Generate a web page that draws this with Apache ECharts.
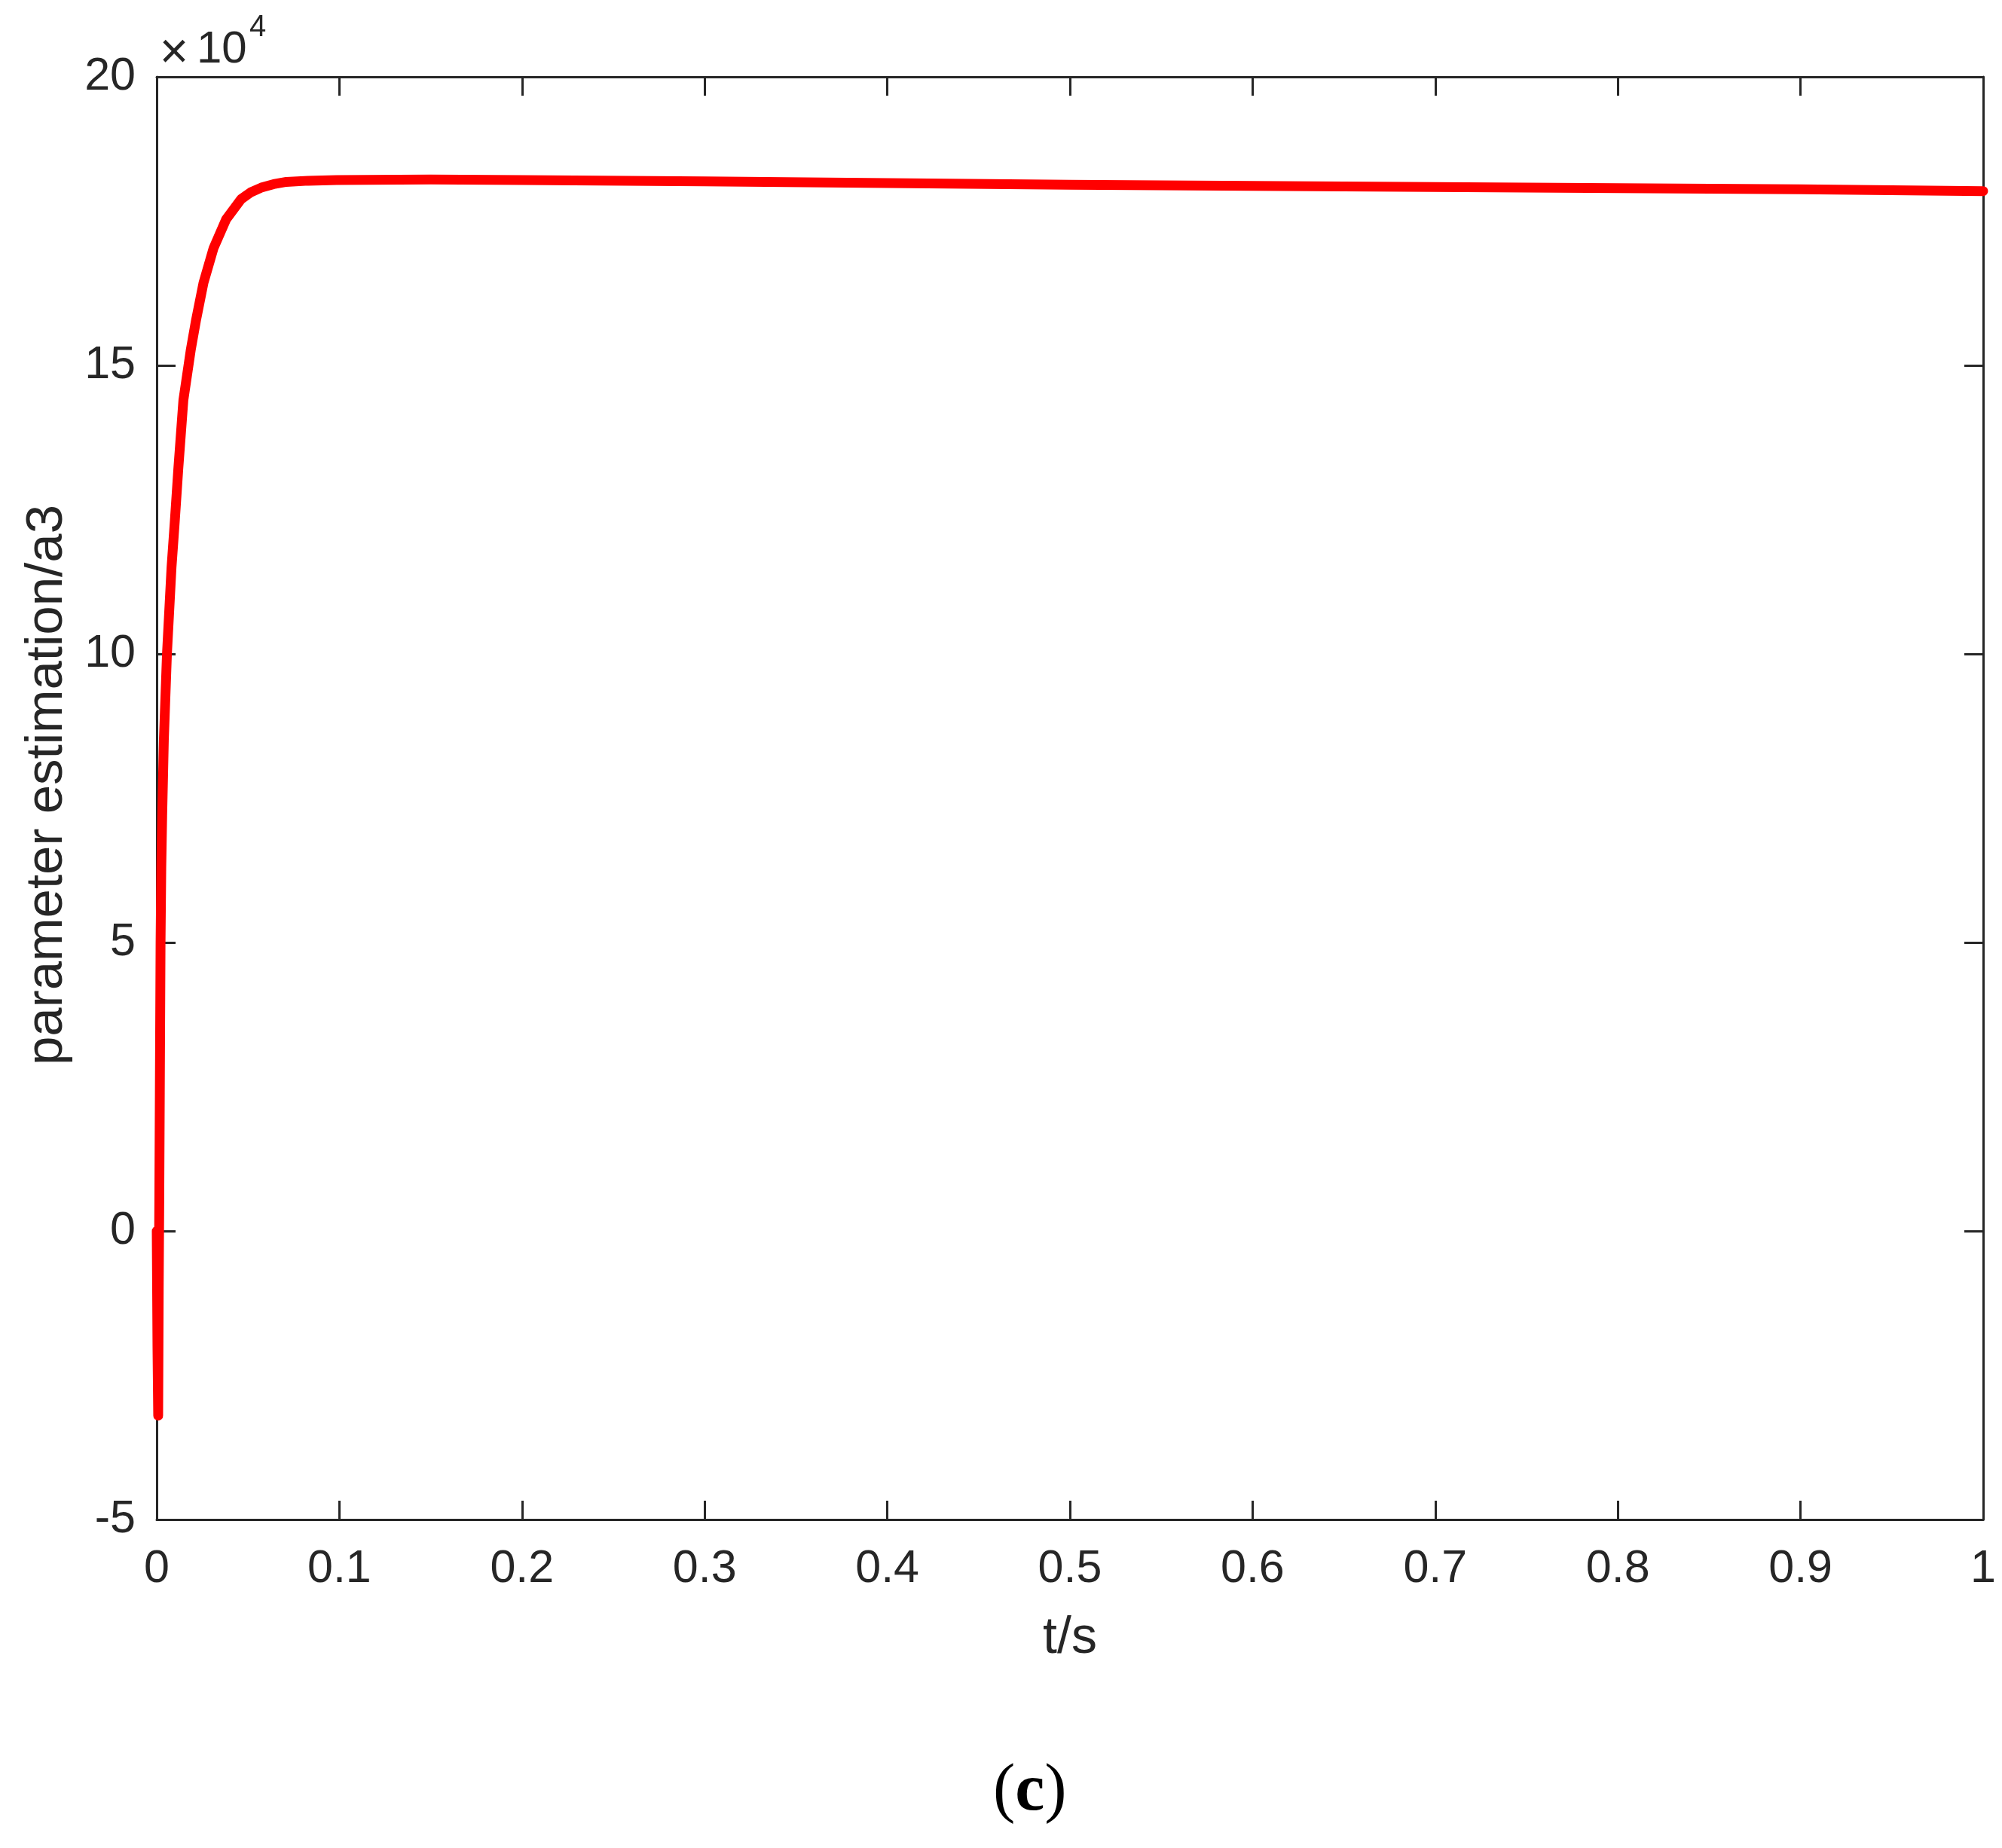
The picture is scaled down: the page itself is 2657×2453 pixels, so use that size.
<!DOCTYPE html>
<html>
<head>
<meta charset="utf-8">
<title>parameter estimation a3</title>
<script src="https://cdn.jsdelivr.net/npm/echarts@6/dist/echarts.min.js"></script>
<style>
  html, body { margin: 0; padding: 0; background: #ffffff; }
  #chart { width: 2657px; height: 2453px; }
</style>
</head>
<body>
<div id="chart"></div>
<script>
// time samples (s)
const timeValues = [
  0, 0.0004, 0.0008, 0.0011, 0.0014, 0.0017, 0.0021, 0.0025, 0.003, 0.0039,
  0.0056, 0.0081, 0.0099, 0.0118, 0.0146, 0.0187, 0.0215, 0.0256, 0.0311, 0.038,
  0.0462, 0.0515, 0.0572, 0.064, 0.071, 0.083, 0.0985, 0.15, 0.2, 0.3,
  0.4, 0.5, 0.6, 0.7, 0.8, 0.9, 1.0
];
// estimated a3, in units of 1e4
const a3Values = [
  0, -2.0, -3.2, -1.0, 0.5, 2.4, 5.0, 6.3, 7.2, 8.5,
  10.0, 11.5, 12.3, 13.2, 14.4, 15.28, 15.78, 16.43, 17.03, 17.53,
  17.88, 18.0, 18.08, 18.14, 18.18, 18.2, 18.21, 18.22, 18.21, 18.19,
  18.16, 18.13, 18.11, 18.09, 18.07, 18.05, 18.02
];
const xRange = [0, 1, 0.1];
const yRange = [-5, 20, 5];

const chartDom = document.getElementById('chart');
const myChart = echarts.init(chartDom, null, { renderer: 'canvas' });

const axisColor = '#262626';
const tickFont = '"Liberation Sans", Arial, Helvetica, sans-serif';
const serifFont = '"Liberation Serif", "Times New Roman", serif';

const seriesData = timeValues.map((t, i) => [t, a3Values[i]]);

// inside ticks on every side, like a boxed matlab axes
const boxAxis = {
  axisLine: { show: true, onZero: false, lineStyle: { color: axisColor, width: 3 } },
  axisTick: { show: true, inside: true, length: 25, lineStyle: { color: axisColor, width: 3 } },
  splitLine: { show: false },
};

const option = {
  backgroundColor: '#ffffff',
  animation: false,
  grid: {
    left: 208,
    right: 25,
    top: 102,
    bottom: 436,
    containLabel: false,
  },
  xAxis: [
    {
      type: 'value',
      min: xRange[0],
      max: xRange[1],
      interval: xRange[2],
      position: 'bottom',
      ...boxAxis,
      axisLabel: {
        color: axisColor,
        fontFamily: tickFont,
        fontSize: 61,
        margin: 36,
      },
      name: 't/s',
      nameLocation: 'middle',
      nameGap: 124,
      nameTextStyle: { color: axisColor, fontFamily: tickFont, fontSize: 68 },
    },
    {
      type: 'value',
      min: xRange[0],
      max: xRange[1],
      interval: xRange[2],
      position: 'top',
      ...boxAxis,
      axisLabel: { show: false },
    },
  ],
  yAxis: [
    {
      type: 'value',
      min: yRange[0],
      max: yRange[1],
      interval: yRange[2],
      position: 'left',
      ...boxAxis,
      axisLabel: {
        color: axisColor,
        fontFamily: tickFont,
        fontSize: 61,
        margin: 28,
      },
    },
    {
      type: 'value',
      min: yRange[0],
      max: yRange[1],
      interval: yRange[2],
      position: 'right',
      ...boxAxis,
      axisLabel: { show: false },
    },
  ],
  graphic: [
    {
      // y axis title, sits a little above the plot centre
      type: 'text',
      x: 63,
      y: 1042,
      rotation: Math.PI / 2,
      style: {
        text: 'parameter estimation/a3',
        fontFamily: tickFont,
        fontSize: 69,
        fill: axisColor,
        align: 'center',
        verticalAlign: 'middle',
      },
    },
    // exponent marker above the y axis: x 10^4
    {
      type: 'text',
      x: 231,
      y: 72,
      style: {
        text: '×',
        fontFamily: tickFont,
        fontSize: 66,
        fill: axisColor,
        align: 'center',
        verticalAlign: 'middle',
      },
    },
    {
      type: 'text',
      x: 261,
      y: 66,
      style: {
        text: '10',
        fontFamily: tickFont,
        fontSize: 60,
        fill: axisColor,
        align: 'left',
        verticalAlign: 'middle',
      },
    },
    {
      type: 'text',
      x: 331,
      y: 37,
      style: {
        text: '4',
        fontFamily: tickFont,
        fontSize: 40,
        fill: axisColor,
        align: 'left',
        verticalAlign: 'middle',
      },
    },
    {
      // sub-figure caption
      type: 'text',
      left: 1318,
      top: 2335,
      style: {
        text: '{p|(}{c|c}{p|)}',
        rich: {
          p: { fontFamily: serifFont, fontSize: 88, fill: '#000000' },
          c: { fontFamily: serifFont, fontWeight: 'bold', fontSize: 88, fill: '#000000' },
        },
      },
    },
  ],
  series: [
    {
      name: 'a3',
      type: 'line',
      data: seriesData,
      showSymbol: false,
      clip: false,
      smooth: false,
      lineStyle: { color: '#ff0000', width: 13, cap: 'round', join: 'round' },
    },
  ],
};

myChart.setOption(option);
</script>
</body>
</html>
